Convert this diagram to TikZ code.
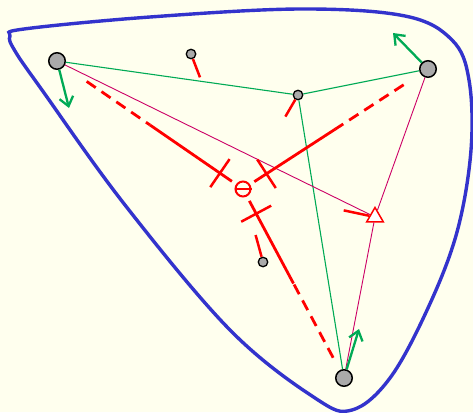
\documentclass[tikz,border=0pt]{standalone}
\usepackage{xcolor}
\usepackage{tikz}
\usetikzlibrary{shapes.geometric, arrows.meta, calc}

\definecolor{paper}{HTML}{FFFFEE}
\definecolor{blobblue}{HTML}{3333CC}
\definecolor{gradgreen}{HTML}{00AA55}
\definecolor{edgecrimson}{HTML}{CC0066}
\definecolor{ptgray}{HTML}{AAAAAA}

\begin{document}
\begin{tikzpicture}[x=1pt, y=-1pt, >=stealth]
    \tikzset{
        bigpt/.style={circle, draw=black, fill=ptgray, line width=1.5pt, minimum size=16.5pt, inner sep=0pt},
        smallpt/.style={circle, draw=black, fill=ptgray, line width=1.3pt, minimum size=9.5pt, inner sep=0pt},
        minuspt/.style={circle, draw=red, line width=2pt, minimum size=15pt, inner sep=0pt},
        tript/.style={regular polygon, regular polygon sides=3, draw=red, fill=white, line width=1.5pt, minimum size=19pt, inner sep=0pt},
        gline/.style={draw=gradgreen, line width=1.1pt},
        cline/.style={draw=edgecrimson, line width=0.9pt},
        rline/.style={draw=red, line width=2.8pt},
        rdash/.style={draw=red, line width=2.8pt, dash pattern=on 11pt off 7pt},
        stub/.style={draw=red, line width=2.5pt},
        crossmark/.style={draw=red, line width=2.5pt},
        garrow/.style={draw=gradgreen, line width=2.3pt, -{Straight Barb[length=9pt, width=14pt]}},
        blob/.style={draw=blobblue, line width=3.4pt}
    }

    \useasboundingbox [fill=paper] (0,0) rectangle (473,412);

    % enclosing curve
    \path [blob] plot [smooth cycle, tension=0.6] coordinates {
        (24,29) (150,17) (300,9) (405,16) (452,40) (469,80)
        (471,150) (457,232) (428,308) (390,378) (352,410) (315,398)
        (230,330) (125,205) (42,90) (15,51) (10,36)};

    % points
    \node (A) [bigpt] at (57,61) {};
    \node (B) [bigpt] at (428,69) {};
    \node (C) [bigpt] at (344,378) {};
    \node (p1) [smallpt] at (191,54) {};
    \node (p2) [smallpt] at (298,95) {};
    \node (p3) [smallpt] at (263,262) {};
    \node (O) [minuspt] at (243,189) {};
    \node (T) [tript] at (375,217) {};
    \path [draw=red, line width=2pt] (O.west) -- (O.east);

    \coordinate (mA) at ($(O)!0.5!(A)$);
    \coordinate (mB) at ($(O)!0.5!(B)$);
    \coordinate (mC) at ($(O)!0.5!(C)$);
    \coordinate (gA) at (69,108);
    \coordinate (gB) at (393,33);
    \coordinate (gC) at (359,329);

    % thin edges
    \path [gline] (A) -- (p2);
    \path [gline] (p2) -- (B);
    \path [gline] (p2) -- (C);
    \path [cline] (A) -- (T);
    \path [cline] (B) -- (T);
    \path [cline] (T) -- (C);

    % red spokes
    \path [rline, shorten <=5pt] (O) -- (mA);
    \path [rline, shorten <=5pt] (O) -- (mB);
    \path [rline, shorten <=5pt] (O) -- (mC);
    \path [rdash, shorten <=27pt] (A) -- (mA);
    \path [rdash, shorten <=20pt] (B) -- (mB);
    \path [rdash, shorten <=14pt] (C) -- (mC);

    \foreach \v in {A,B,C} {
        \coordinate (t\v) at ($(O)!28pt!(\v)$);
        \path [crossmark] ($(t\v)!17pt!90:(O)$) -- ($(t\v)!17pt!-90:(O)$);
    }

    % stubs
    \path [stub] (p1) -- ($(p1)!25pt!(O)$);
    \path [stub] (p2) -- ($(p2)!25pt!(O)$);
    \path [stub] (p3) -- ($(p3)!28pt!(O)$);
    \path [stub] (T) -- ($(T)!32pt!(O)$);

    % green arrows
    \path [garrow] (A) -- (gA);
    \path [garrow] (B) -- (gB);
    \path [garrow] (C) -- (gC);
\end{tikzpicture}
\end{document}
